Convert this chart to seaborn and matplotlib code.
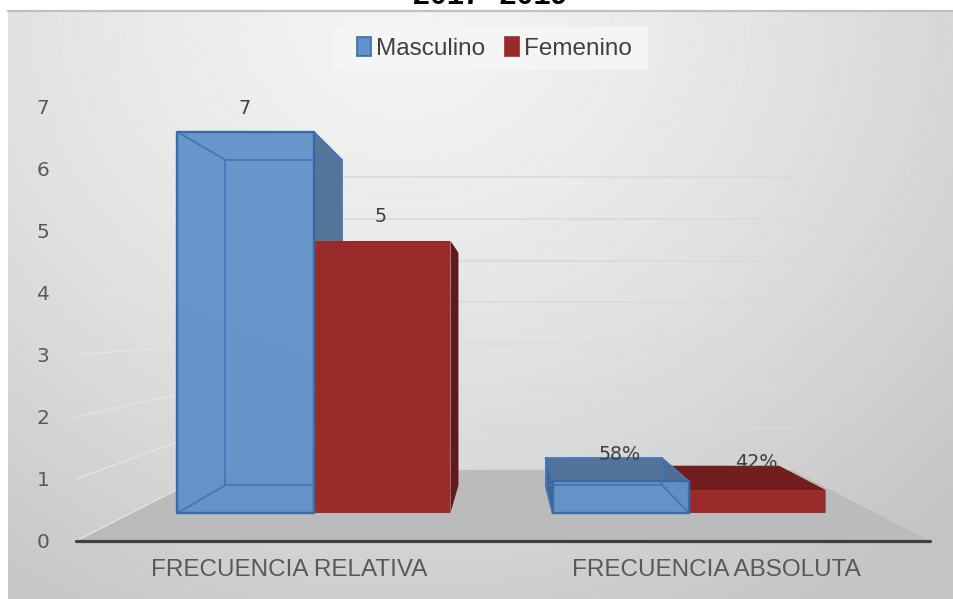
import numpy as np
import pandas as pd
import seaborn as sns
import matplotlib
matplotlib.use("Agg")
import matplotlib.pyplot as plt
from matplotlib.patches import Polygon, Patch, Rectangle

categories = ["FRECUENCIA RELATIVA", "FRECUENCIA ABSOLUTA"]
masculino = [7, 0.58]
femenino = [5, 0.42]
masculino_labels = ["7", "58%"]
femenino_labels = ["5", "42%"]
y_ticks = [0, 1, 2, 3, 4, 5, 6, 7]
title = "2017- 2019"

W, H = 954, 599
BLUE, BLUE_EDGE, BLUE_DARK = "#6191c9", "#3a6aa6", "#4d6e96"
RED, RED_TOP, RED_SIDE = "#992b2b", "#731e1e", "#611a1a"
TXT = "#595959"

sns.set_theme(style="white")
plt.rcParams["font.family"] = ["Liberation Sans", "DejaVu Sans"]

fig = plt.figure(figsize=(W / 100, H / 100), dpi=100, facecolor="white")
ax = fig.add_axes([0, 0, 1, 1])

# pixel scale of the bars' front plane
X0, XS, Y0, YS = 314, 375, 513, 54.43
def dx(px): return (px - X0) / XS
def dy(py): return (Y0 - py) / YS
VX, VY = dx(505), dy(323)
S = 0.854
def recede(x, y, s=S):
    return VX + s * (x - VX), VY + s * (y - VY)

df = pd.DataFrame({
    "cat": categories * 2,
    "value": masculino + femenino,
    "sex": ["Masculino"] * 2 + ["Femenino"] * 2,
})
sns.barplot(data=df, x="cat", y="value", hue="sex", order=categories,
            hue_order=["Masculino", "Femenino"],
            palette={"Masculino": BLUE, "Femenino": RED}, saturation=1,
            width=0.728, gap=0, dodge=True, legend=False, ax=ax, zorder=5)
bars = [b for c in ax.containers for b in c]

# background gradient
yy, xx = np.mgrid[0:H, 0:W]
d = np.sqrt(((xx - 400) / 570) ** 2 + (yy / 520) ** 2)
v = np.maximum(0.955 - 0.12 * d ** 1.4, 0.77)
ax.imshow(v, cmap="gray", vmin=0, vmax=1, aspect="auto", zorder=0,
          extent=(dx(8), dx(W), dy(H), dy(10)), interpolation="bilinear")
ax.plot([dx(8), dx(W)], [dy(10.5), dy(10.5)], color="#bfbfbf", lw=1.6, zorder=1)

# floor and wall grid
fl, fr, fb = dx(76), dx(930), dy(541)
WS = 0.674
bl, bb = recede(fl, fb, WS)
br, _ = recede(fr, fb, WS)
ax.add_patch(Polygon([(fl, fb), (fr, fb), (br, bb), (bl, bb)], fc="#bbbbbb", ec="none", zorder=1))
wall_unit = 62.14 / YS
for t in y_ticks[1:]:
    yf = fb + t * wall_unit
    xb, yb = recede(fl, yf, WS)
    xe, _ = recede(fr, yf, WS)
    ax.plot([fl, xb], [yf, yb], color="#e5e5e5", lw=0.9, zorder=2)
    ax.plot([xb, xe], [yb, yb], color="#dadada", lw=1.1, zorder=2)
xb0, yb0 = recede(fl, fb, WS)
ax.plot([fl, xb0], [fb, yb0], color="#e2e2e2", lw=1.0, zorder=2)

# depth faces of each bar
n = len(categories)
for i, b in enumerate(bars):
    x0, x1, top = b.get_x(), b.get_x() + b.get_width(), b.get_height()
    (bx0, bt), (bx1, _) = recede(x0, top), recede(x1, top)
    _, bbase = recede(x0, 0)
    male = i < n
    if male:
        b.set_alpha(0.95)
        b.set_edgecolor("none")
        ax.add_patch(Polygon([(x1, top), (bx1, bt), (bx1, bbase), (x1, 0)],
                             fc=BLUE_DARK, ec="none", alpha=0.95, zorder=4.5))
        if bt > top:  # low bar: top and left faces are visible
            ax.add_patch(Polygon([(x0, top), (x1, top), (bx1, bt), (bx0, bt)],
                                 fc=BLUE_DARK, ec="none", alpha=0.95, zorder=4.5))
            ax.add_patch(Polygon([(x0, top), (bx0, bt), (bx0, bbase), (x0, 0)],
                                 fc="#3f6596", ec="none", zorder=4.5))
        for seg in ([(x0, top), (bx0, bt)], [(x1, top), (bx1, bt)], [(x0, 0), (bx0, bbase)],
                    [(x1, 0), (bx1, bbase)], [(bx0, bbase), (bx1, bbase)], [(bx0, bt), (bx1, bt)],
                    [(bx0, bbase), (bx0, bt)], [(bx1, bbase), (bx1, bt)]):
            ax.plot(*zip(*seg), color="#4478b4", lw=1.3, zorder=5.2)
        ax.plot([x0, x1, x1, x0, x0], [0, 0, top, top, 0], color=BLUE_EDGE, lw=1.7, zorder=6.5)
    else:
        b.set_edgecolor("none")
        b.set_zorder(5.5)
        ax.add_patch(Polygon([(x1, top), (bx1, bt), (bx1, bbase), (x1, 0)],
                             fc=RED_SIDE, ec="none", zorder=3.5))
        if bt > top:
            ax.add_patch(Polygon([(x0, top), (x1, top), (bx1, bt), (bx0, bt)],
                                 fc=RED_TOP, ec="none", zorder=3.5))

# value labels
label_font = dict(family="DejaVu Sans", fontsize=13.8, color="#404040", ha="center", va="center", zorder=8)
label_px = [(245, 108), (620, 455), (381, 216), (756, 463)]
for (px, py), s in zip(label_px, masculino_labels + femenino_labels):
    ax.text(dx(px), dy(py), s, **label_font)

ax.add_patch(Rectangle((dx(332), dy(70)), (648 - 332) / XS, 43 / YS, fc="#f5f5f5", ec="none", zorder=7))
ax.set_xlim(dx(0), dx(W))
ax.set_ylim(dy(H), dy(0))
ax.axis("off")

# axis with ticks and category labels
wall = fig.add_axes([76 / W, (H - 541) / H, 854 / W, 435 / H], zorder=3)
wall.patch.set_alpha(0)
wall.set_xlim(0, 2)
wall.set_ylim(0, 7)
wall.set_xticks([0.5, 1.5], categories)
wall.set_yticks(y_ticks)
wall.tick_params(axis="x", length=0, pad=13, labelsize=17.5, labelcolor=TXT)
wall.tick_params(axis="y", length=0, pad=19, labelsize=14.5, labelcolor=TXT)
for lb in wall.get_yticklabels():
    lb.set_fontfamily("DejaVu Sans")
for sp in ("top", "left", "right"):
    wall.spines[sp].set_visible(False)
wall.spines["bottom"].set_color("#404040")
wall.spines["bottom"].set_linewidth(2.3)
wall.spines["bottom"].set_capstyle("round")

handles = [Patch(fc=BLUE, ec=BLUE_EDGE, lw=1.2, label="Masculino"),
           Patch(fc=RED, ec=RED, lw=1.2, label="Femenino")]
leg = fig.legend(handles=handles, loc="center", bbox_to_anchor=(494.5 / W, 1 - 48.5 / H), ncol=2,
                 fontsize=17.5, frameon=False, handlelength=0.55, handleheight=0.8, handletextpad=0.2,
                 columnspacing=0.85, labelcolor="#404040", borderpad=0, borderaxespad=0)
leg.set_zorder(10)

fig.text(490 / W, 1 - 4 / H, title, family="Liberation Sans", fontweight="bold", fontsize=22,
         color="black", ha="center", va="baseline")

fig.savefig("out.png", dpi=100)
